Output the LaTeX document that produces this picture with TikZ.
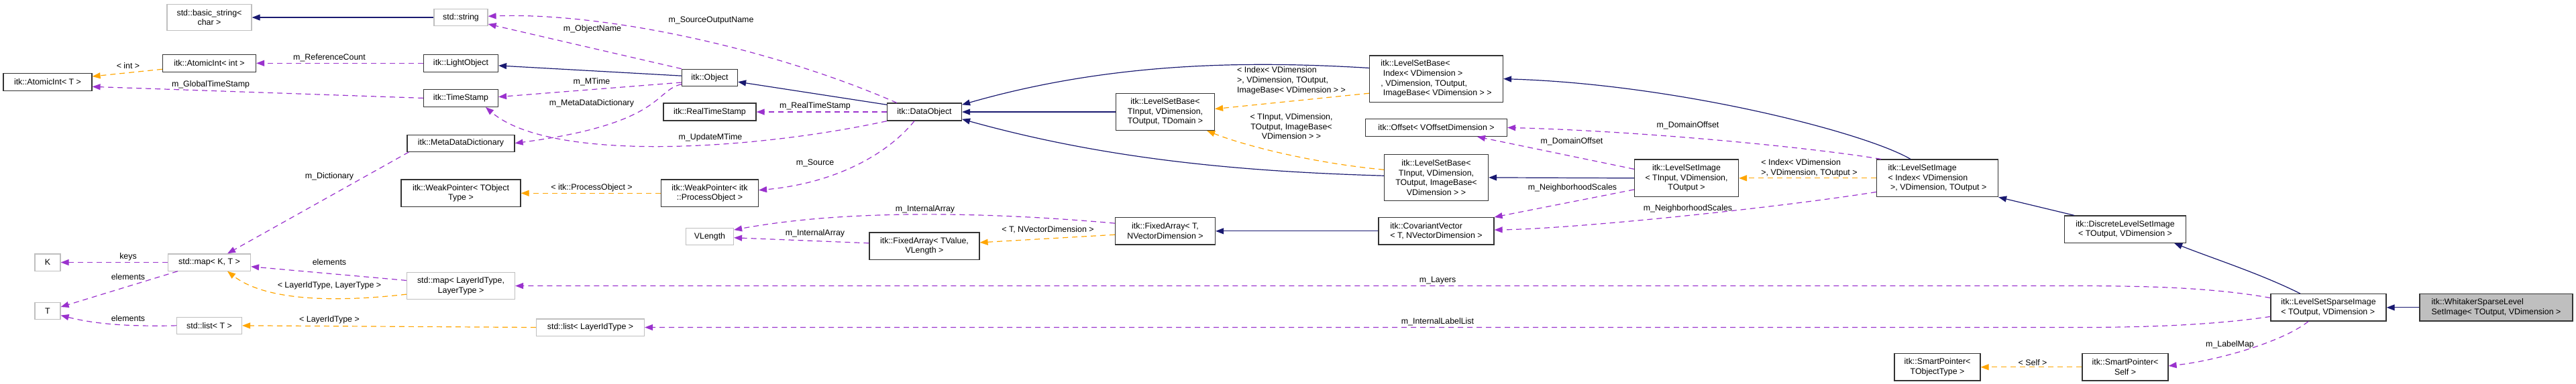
\documentclass[tikz,border=0pt]{standalone}
\usepackage{fontspec}
\setmainfont{Liberation Sans}
\usetikzlibrary{arrows.meta,calc}
\definecolor{inhc}{HTML}{191970}
\definecolor{memc}{HTML}{9A32CD}
\definecolor{tplc}{HTML}{FFA500}
\definecolor{grayb}{HTML}{BFBFBF}
\begin{document}
\begin{tikzpicture}[x=0.5pt,y=-0.449pt,
  box/.style={draw=black!80,line width=0.6pt,fill=white,inner sep=0pt,align=center,font=\fontsize{6.2}{7.3}\selectfont},
  gbox/.style={box,draw=grayb},
  inh/.style={draw=inhc,line width=0.6pt,-{Triangle[length=6pt,width=4.5pt]}},
  mem/.style={draw=memc,line width=0.6pt,dash pattern=on 4pt off 3pt,-{Triangle[length=6pt,width=4.5pt]}},
  tpl/.style={draw=tplc,line width=0.6pt,dash pattern=on 4pt off 3pt,-{Triangle[length=6pt,width=4.5pt]}},
  lab/.style={inner sep=0pt,align=center,font=\fontsize{6.2}{7.3}\selectfont},
]
\useasboundingbox (0,0) rectangle (3840,637);
% nodes
\node[gbox,minimum width=63pt,minimum height=19.8pt] (bs) at (312,29) {std::basic\_string<\\char >};
\node[box,minimum width=69.5pt,minimum height=13pt] (aint) at (312,105) {itk::AtomicInt< int >};
\node[box,minimum width=66pt,minimum height=13pt] (aT) at (71,136) {itk::AtomicInt< T >};
\node[gbox,minimum width=19pt,minimum height=12.6pt] (K) at (71,436) {K};
\node[gbox,minimum width=61.5pt,minimum height=12.6pt] (mapKT) at (312,436) {std::map< K, T >};
\node[gbox,minimum width=19pt,minimum height=12.6pt] (T) at (71,517) {T};
\node[gbox,minimum width=48.5pt,minimum height=12.6pt] (listT) at (312,541) {std::list< T >};
\node[gbox,minimum width=40pt,minimum height=12.6pt] (str) at (687,29) {std::string};
\node[box,minimum width=55.5pt,minimum height=13pt] (light) at (687,105) {itk::LightObject};
\node[box,minimum width=55.5pt,minimum height=13pt] (ts) at (687,163) {itk::TimeStamp};
\node[box,minimum width=80pt,minimum height=12.6pt] (mdd) at (687,238) {itk::MetaDataDictionary};
\node[box,minimum width=89pt,minimum height=20.2pt] (wpT) at (687,321) {itk::WeakPointer< TObject\\Type >};
\node[gbox,minimum width=80.5pt,minimum height=19.8pt] (mapL) at (687,475) {std::map< LayerIdType,\\LayerType >};
\node[gbox,minimum width=80.5pt,minimum height=12.6pt] (listL) at (880,544) {std::list< LayerIdType >};
\node[box,minimum width=41.5pt,minimum height=12.6pt] (obj) at (1058,129) {itk::Object};
\node[box,minimum width=69pt,minimum height=13pt] (rts) at (1058,186) {itk::RealTimeStamp};
\node[box,minimum width=72.5pt,minimum height=20.2pt] (wpP) at (1058,321) {itk::WeakPointer< itk\\::ProcessObject >};
\node[gbox,minimum width=35.5pt,minimum height=12.6pt] (vlen) at (1058,393) {VLength};
\node[box,minimum width=55.5pt,minimum height=13pt] (dobj) at (1378,186) {itk::DataObject};
\node[box,minimum width=73.5pt,minimum height=27.4pt] (lsbD) at (1737,186) {itk::LevelSetBase<\\TInput, VDimension,\\TOutput, TDomain >};
\node[box,minimum width=82pt,minimum height=20.2pt] (faV) at (1378,409) {itk::FixedArray< TValue,\\VLength >};
\node[box,minimum width=74.5pt,minimum height=20.2pt] (faT) at (1737,384) {itk::FixedArray< T,\\NVectorDimension >};
\node[box,minimum width=99.5pt,minimum height=34.6pt,align=left] (lsbI) at (2141,131) {itk::LevelSetBase<\\\ Index< VDimension >\\, VDimension, TOutput,\\\ ImageBase< VDimension > >};
\node[box,minimum width=105.5pt,minimum height=13pt] (off) at (2141,212) {itk::Offset< VOffsetDimension >};
\node[box,minimum width=77.5pt,minimum height=34.6pt] (lsbB) at (2141,295) {itk::LevelSetBase<\\TInput, VDimension,\\TOutput, ImageBase<\\VDimension > >};
\node[box,minimum width=86pt,minimum height=20.2pt,align=left] (cov) at (2141,384) {itk::CovariantVector\\< T, NVectorDimension >};
\node[box,minimum width=77.5pt,minimum height=27.8pt] (lsiT) at (2514,296) {itk::LevelSetImage\\< TInput, VDimension,\\TOutput >};
\node[box,minimum width=90.5pt,minimum height=27.8pt,align=left] (lsiI) at (2888,296) {itk::LevelSetImage\\< Index< VDimension\\\ >, VDimension, TOutput >};
\node[box,minimum width=90.5pt,minimum height=20.2pt] (disc) at (3168,381) {itk::DiscreteLevelSetImage\\< TOutput, VDimension >};
\node[box,minimum width=64pt,minimum height=20.2pt] (spT) at (2888,610) {itk::SmartPointer<\\TObjectType >};
\node[box,minimum width=64pt,minimum height=20.2pt] (spS) at (3168,610) {itk::SmartPointer<\\Self >};
\node[box,minimum width=86pt,minimum height=20.2pt,align=left] (sparse) at (3471,511) {itk::LevelSetSparseImage\\< TOutput, VDimension >};
\node[box,fill=grayb,minimum width=114pt,minimum height=20.2pt,align=left] (whit) at (3721,511) {itk::WhitakerSparseLevel\\SetImage< TOutput, VDimension >};
% edges
\draw[inh] (str.west) -- (bs.east);
\draw[tpl] ($(aint.west)+(0,10)$) -- ($(aT.east)+(0,-9)$);
\draw[mem] (light.west) -- (aint.east);
\draw[mem] (ts.west) -- ($(aT.east)+(0,8)$);
\draw[mem] (obj.north west) -- ($(str.east)+(0,11)$);
\draw[inh] ($(obj.west)+(0,-3)$) -- ($(light.east)+(0,4)$);
\draw[mem] ($(obj.west)+(0,8)$) -- ($(ts.east)+(0,-2)$);
\draw[mem] ($(obj.west)+(0,11)$) .. controls (975,150) and (990,205) .. (mdd.east);
\draw[inh] ($(dobj.west)+(0,-12)$) -- ($(obj.east)+(0,7)$);
\draw[mem] ($(dobj.north west)+(15,0)$) .. controls (1150,80) and (900,20) .. ($(str.east)+(0,-2)$);
\draw[mem] (dobj.west) -- (rts.east);
\draw[mem] (dobj.south west) .. controls (1120,250) and (820,270) .. ($(ts.south)+(37,0)$);
\draw[mem] ($(dobj.south)+(-15,0)$) .. controls (1320,260) and (1240,305) .. ($(wpP.east)+(0,-5)$);
\draw[mem] ($(mdd.south west)+(3,0)$) -- ($(mapKT.north)+(27,0)$);
\draw[tpl] (wpP.west) -- (wpT.east);
\draw[mem] (mapKT.west) -- (K.east);
\draw[mem] ($(mapKT.south west)+(15,0)$) -- ($(T.east)+(0,-7)$);
\draw[mem] (listT.west) .. controls (190,543) and (140,538) .. ($(T.east)+(0,7)$);
\draw[mem] ($(mapL.west)+(0,-9)$) -- ($(mapKT.east)+(0,7)$);
\draw[tpl] ($(mapL.west)+(0,14)$) .. controls (480,505) and (390,495) .. ($(mapKT.south)+(27,0)$);
\draw[tpl] (listL.west) -- (listT.east);
\draw[mem] ($(faT.west)+(0,-13)$) .. controls (1450,350) and (1250,350) .. ($(vlen.east)+(0,-11)$);
\draw[mem] ($(faV.west)+(0,-5)$) -- ($(vlen.east)+(0,2)$);
\draw[tpl] ($(faT.west)+(0,6)$) -- ($(faV.east)+(0,-6)$);
\draw[inh] ($(lsbI.west)+(0,-18)$) .. controls (1850,100) and (1650,105) .. ($(dobj.east)+(0,-12)$);
\draw[inh] (lsbD.west) -- (dobj.east);
\draw[inh] ($(lsbB.west)+(0,-3)$) .. controls (1850,285) and (1650,265) .. ($(dobj.east)+(0,12)$);
\draw[tpl] ($(lsbI.west)+(0,24)$) -- ($(lsbD.east)+(0,-5)$);
\draw[tpl] ($(lsbB.west)+(0,-13)$) .. controls (1950,270) and (1850,240) .. ($(lsbD.south east)+(-12,0)$);
\draw[inh] (cov.west) -- (faT.east);
\draw[inh] (lsiT.west) -- (lsbB.east);
\draw[mem] ($(lsiT.west)+(0,-15)$) -- ($(off.south)+(61,0)$);
\draw[mem] ($(lsiT.west)+(0,19)$) -- (cov.north east);
\draw[inh] ($(lsiI.north)+(-40,0)$) .. controls (2780,220) and (2500,140) .. (lsbI.east);
\draw[mem] ($(lsiI.north west)+(7,0)$) .. controls (2700,245) and (2450,218) .. (off.east);
\draw[mem] ($(lsiI.west)+(0,23)$) .. controls (2650,345) and (2350,380) .. ($(cov.east)+(0,-2)$);
\draw[tpl] (lsiI.west) -- (lsiT.east);
\draw[inh] ($(disc.north west)+(15,0)$) -- (lsiI.south east);
\draw[inh] ($(sparse.north)+(-42,0)$) .. controls (3370,455) and (3300,430) .. ($(disc.south east)+(-18,0)$);
\draw[mem] ($(sparse.west)+(0,-16)$) .. controls (3300,478) and (3200,475) .. (3100,475) -- (mapL.east);
\draw[mem] ($(sparse.west)+(0,15)$) .. controls (3300,540) and (3200,544) .. (3100,544) -- (listL.east);
\draw[mem] ($(sparse.south)+(-30,0)$) .. controls (3400,570) and (3300,600) .. ($(spS.east)+(0,-2)$);
\draw[tpl] (spS.west) -- (spT.east);
\draw[inh] (whit.west) -- (sparse.east);
% labels
\node[lab] (l1) at (191,109) {< int >};
\node[lab] (l2) at (491,96) {m\_ReferenceCount};
\node[lab] (l3) at (314,141) {m\_GlobalTimeStamp};
\node[lab] (l4) at (491,293) {m\_Dictionary};
\node[lab] (l5) at (191,427) {keys};
\node[lab] (l6) at (191,460) {elements};
\node[lab] (l7) at (191,529) {elements};
\node[lab] (l8) at (491,436) {elements};
\node[lab] (l9) at (491,475) {< LayerIdType, LayerType >};
\node[lab] (l10) at (491,531) {< LayerIdType >};
\node[lab] (l11) at (883,48) {m\_ObjectName};
\node[lab] (l12) at (1060,34) {m\_SourceOutputName};
\node[lab] (l13) at (882,136) {m\_MTime};
\node[lab] (l14) at (882,172) {m\_MetaDataDictionary};
\node[lab] (l15) at (1215,176) {m\_RealTimeStamp};
\node[lab] (l16) at (1059,229) {m\_UpdateMTime};
\node[lab] (l17) at (1215,271) {m\_Source};
\node[lab] (l18) at (882,312) {< itk::ProcessObject >};
\node[lab] (l19) at (1215,388) {m\_InternalArray};
\node[lab] (l20) at (1379,348) {m\_InternalArray};
\node[lab] (l21) at (1562,382) {< T, NVectorDimension >};
\node[lab,align=left] (l22) at (1925,134) {< Index< VDimension\\>, VDimension, TOutput,\\ImageBase< VDimension > >};
\node[lab] (l23) at (1925,210) {< TInput, VDimension,\\TOutput, ImageBase<\\VDimension > >};
\node[lab] (l24) at (2343,235) {m\_DomainOffset};
\node[lab] (l25) at (2344,312) {m\_NeighborhoodScales};
\node[lab] (l26) at (2516,208) {m\_DomainOffset};
\node[lab] (l27) at (2516,347) {m\_NeighborhoodScales};
\node[lab,align=left] (l28) at (2697,279) {< Index< VDimension\\>, VDimension, TOutput >};
\node[lab] (l29) at (2143,466) {m\_Layers};
\node[lab] (l30) at (2143,535) {m\_InternalLabelList};
\node[lab] (l31) at (3030,602) {< Self >};
\node[lab] (l32) at (3324,573) {m\_LabelMap};
\end{tikzpicture}
\end{document}
